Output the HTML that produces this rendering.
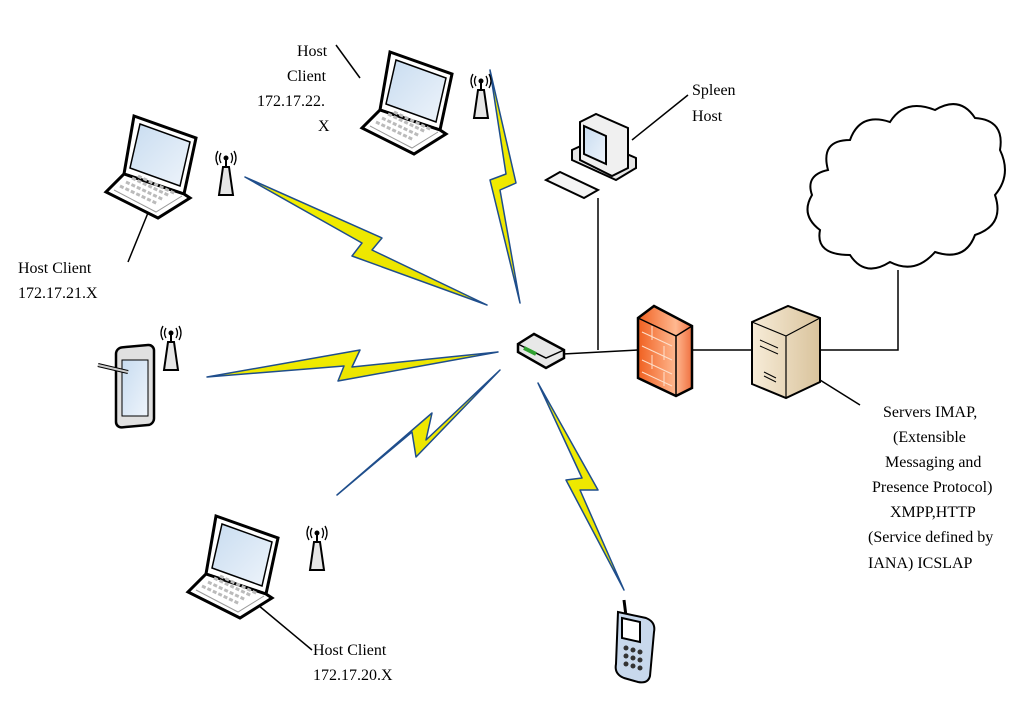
<!DOCTYPE html>
<html><head><meta charset="utf-8"><style>
html,body{margin:0;padding:0;background:#fff}
svg{display:block}
text{font-family:"Liberation Serif",serif;font-size:16px;fill:#000}
</style></head><body>
<svg width="1024" height="702" viewBox="0 0 1024 702" xmlns="http://www.w3.org/2000/svg">
<defs>
<linearGradient id="bolt" x1="0" y1="0" x2="1" y2="1"><stop offset="0" stop-color="#f4f000"/><stop offset="1" stop-color="#e8e000"/></linearGradient>
<linearGradient id="fw" x1="0" y1="0" x2="1" y2="0"><stop offset="0" stop-color="#f06020"/><stop offset="0.7" stop-color="#ffb890"/><stop offset="1" stop-color="#f07040"/></linearGradient>
<linearGradient id="srv" x1="0" y1="0" x2="1" y2="0"><stop offset="0" stop-color="#f7ecd8"/><stop offset="1" stop-color="#d9c39c"/></linearGradient>
<linearGradient id="scr" x1="0" y1="0" x2="1" y2="1"><stop offset="0" stop-color="#c8dcf0"/><stop offset="1" stop-color="#eef4fb"/></linearGradient>
<g id="laptop">
<path d="M28,0 L90,22 L78,78 L18,58 Z" fill="#fff" stroke="#000" stroke-width="3"/>
<path d="M34,8 L84,26 L74,70 L24,52 Z" fill="url(#scr)" stroke="#000" stroke-width="1.5"/>
<path d="M18,58 L78,78 L84,82 L52,102 L0,76 Z" fill="#fff" stroke="#000" stroke-width="3"/>
<path d="M8,74 L50,96 L76,80" fill="none" stroke="#999" stroke-width="1"/>
<path d="M14,70 L52,88 M20,66 L58,84 M26,62 L64,80 M32,60 L70,78" stroke="#bbb" stroke-width="3" stroke-dasharray="4 2"/>
</g>
<g id="ant">
<path d="M4,12 L0,40 L14,40 L10,12 Z" fill="#e6e6e6" stroke="#000" stroke-width="2"/>
<line x1="7" y1="12" x2="7" y2="2" stroke="#000" stroke-width="2"/>
<circle cx="7" cy="3" r="2.5" fill="#000"/>
<path d="M2,-2 Q-1,3 2,8 M12,-2 Q15,3 12,8 M-1,-4 Q-5,3 -1,10 M15,-4 Q19,3 15,10" fill="none" stroke="#000" stroke-width="1.3"/>
</g>
</defs>

<!-- bolts -->
<g fill="url(#bolt)" stroke="#1f4e8c" stroke-width="1.5" stroke-linejoin="round">
<polygon points="245,177 382,238 372,250 487,305 352,256 362,243"/>
<polygon points="490,70 516,183 500,190 520,303 490,180 506,174"/>
<polygon points="207,377 360,350 352,367 498,352 338,381 344,366"/>
<polygon points="337,495 432,413 426,440 500,370 416,457 412,432"/>
<polygon points="538,383 598,490 580,490 624,590 566,480 582,478"/>
</g>

<!-- connection lines -->
<g stroke="#000" stroke-width="1.5" fill="none">
<polyline points="598,198 598,350"/>
<line x1="563" y1="354" x2="638" y2="350"/>
<line x1="688" y1="350" x2="752" y2="350"/>
<polyline points="820,350 898,350 898,270"/>
<line x1="360" y1="78" x2="336" y2="45"/>
<line x1="128" y1="262" x2="152" y2="203"/>
<line x1="632" y1="140" x2="688" y2="95"/>
<line x1="258" y1="605" x2="312" y2="650"/>
<line x1="812" y1="375" x2="860" y2="405"/>
</g>

<!-- laptops -->
<use href="#laptop" x="362" y="52"/>
<use href="#laptop" x="106" y="116"/>
<use href="#laptop" x="188" y="516"/>
<use href="#ant" x="474" y="78"/>
<use href="#ant" x="219" y="155"/>
<use href="#ant" x="164" y="330"/>
<use href="#ant" x="310" y="530"/>

<!-- tablet -->
<g>
<rect x="116" y="346" width="38" height="80" rx="6" fill="#e0e0e0" stroke="#000" stroke-width="2.5" transform="skewY(-5) translate(0,12)"/>
<rect x="122" y="360" width="26" height="56" fill="url(#scr)" stroke="#000" stroke-width="1"/>
<line x1="98" y1="365" x2="128" y2="372" stroke="#000" stroke-width="4"/>
<line x1="98" y1="365" x2="128" y2="372" stroke="#ccc" stroke-width="2"/>
</g>

<!-- router -->
<g stroke="#000" stroke-width="2.5">
<path d="M518,344 L534,334 L564,350 L564,358 L546,368 L518,352 Z" fill="#e8e8e8"/>
<path d="M518,344 L546,358 L564,350" fill="none" stroke-width="1.5"/>
<path d="M524,348 L536,354" stroke="#2fa02f" stroke-width="4"/>
</g>

<!-- firewall -->
<g stroke="#000" stroke-width="2.5">
<path d="M638,318 L654,306 L692,326 L692,388 L676,396 L638,378 Z" fill="url(#fw)"/>
<path d="M638,318 L676,336 L676,396 M676,336 L692,326" fill="none" stroke-width="1.5"/>
<g stroke="#fde0cc" stroke-width="1" fill="none">
<path d="M642,332 L672,346 M642,346 L672,360 M642,360 L672,374 M642,372 L672,386"/>
<path d="M652,326 L652,340 M664,346 L664,360 M652,355 L652,369 M664,372 L664,386"/>
</g>
</g>

<!-- server -->
<g stroke="#000" stroke-width="2">
<path d="M752,322 L788,306 L820,318 L820,382 L786,398 L752,384 Z" fill="url(#srv)"/>
<path d="M752,322 L786,336 L820,318 M786,336 L786,398" fill="none" stroke-width="1.2"/>
<path d="M760,340 L778,348 M760,346 L778,354 M764,372 L776,378 M764,376 L776,382" stroke-width="1"/>
</g>

<!-- desktop -->
<g stroke="#000" stroke-width="2">
<path d="M572,160 L616,180 L636,168 L636,158 L594,140 L572,150 Z" fill="#e6e6e6"/>
<path d="M580,122 L596,114 L628,128 L628,168 L612,176 L580,160 Z" fill="#f0f0f0"/>
<path d="M584,126 L606,136 L606,164 L584,154 Z" fill="url(#scr)"/>
<path d="M546,180 L560,172 L598,190 L584,198 Z" fill="#f4f4f4"/>
</g>

<!-- phone -->
<g stroke="#000" stroke-width="2">
<line x1="624" y1="600" x2="626" y2="616" stroke-width="3"/>
<path d="M618,612 L646,618 Q656,622 654,632 L650,676 Q648,684 638,682 L624,678 Q614,674 616,664 Z" fill="#c8d8ec"/>
<path d="M622,618 L640,622 L640,642 L622,638 Z" fill="#fff"/>
<g fill="#333" stroke="none"><circle cx="626" cy="648" r="2.5"/><circle cx="633" cy="650" r="2.5"/><circle cx="640" cy="652" r="2.5"/><circle cx="626" cy="656" r="2.5"/><circle cx="633" cy="658" r="2.5"/><circle cx="640" cy="660" r="2.5"/><circle cx="626" cy="664" r="2.5"/><circle cx="633" cy="666" r="2.5"/><circle cx="640" cy="668" r="2.5"/></g>
</g>

<!-- cloud -->
<path d="M828,170 Q820,140 850,140 Q860,112 890,122 Q905,98 935,110 Q960,95 975,118 Q1005,120 1000,150 Q1012,175 995,195 Q1005,225 975,235 Q965,262 935,252 Q915,275 890,262 Q865,278 850,255 Q815,255 820,230 Q800,215 812,195 Q805,175 828,170 Z" fill="#fff" stroke="#000" stroke-width="2"/>

<!-- labels -->
<text x="297" y="56">Host</text>
<text x="287" y="81">Client</text>
<text x="257" y="106">172.17.22.</text>
<text x="318" y="131">X</text>
<text x="18" y="273">Host Client</text>
<text x="18" y="298">172.17.21.X</text>
<text x="692" y="95">Spleen</text>
<text x="692" y="121">Host</text>
<text x="313" y="655">Host Client</text>
<text x="313" y="680">172.17.20.X</text>
<text x="883" y="417">Servers  IMAP,</text>
<text x="893" y="442">(Extensible</text>
<text x="885" y="467">Messaging and</text>
<text x="872" y="492">Presence Protocol)</text>
<text x="890" y="517">XMPP,HTTP</text>
<text x="868" y="542">(Service defined by</text>
<text x="868" y="568">IANA) ICSLAP</text>
</svg>
</body></html>
